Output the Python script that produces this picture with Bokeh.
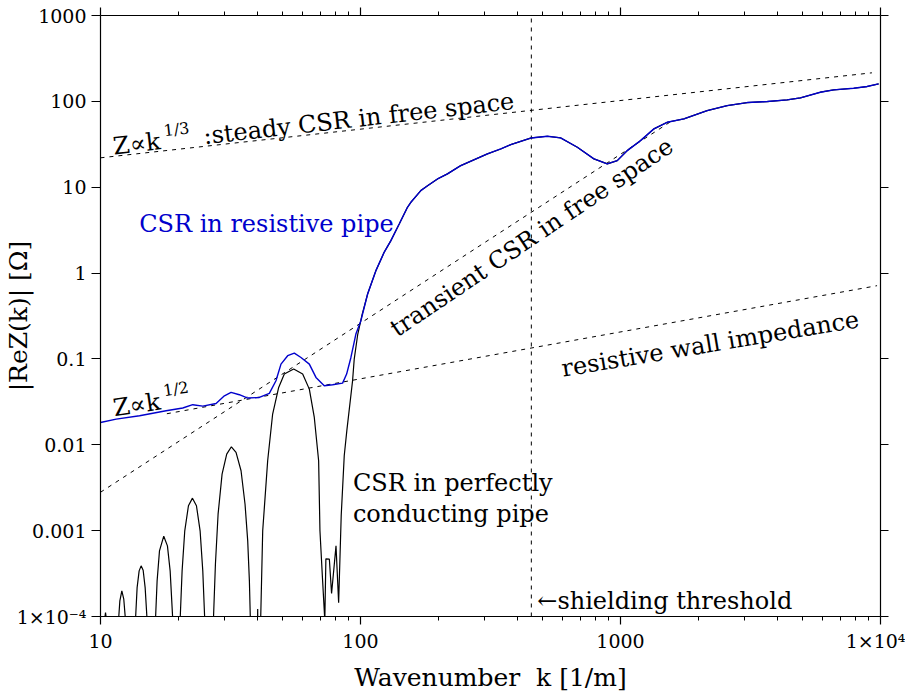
import math
from bokeh.plotting import figure
from bokeh.models import LogAxis, FixedTicker, CustomJSTickFormatter, Label
from bokeh.embed import file_html
from bokeh.resources import INLINE

# ---------------- data ----------------
# CSR in resistive pipe, low-k part (k [1/m], |ReZ| [Ohm])
k_res_low = [10.0, 11.49, 14.13, 17.88, 20.72, 22.64, 24.74, 27.83, 29.96, 31.78,
             34.20, 36.83, 40.83, 44.6, 47.3, 49.45, 52.47, 55.65, 59.03, 63.56,
             67.41, 72.55, 78.12, 85.33, 88.44, 91.86, 96.0, 100.35]
z_res_low = [0.0182, 0.0199, 0.0218, 0.0249, 0.0268, 0.0293, 0.0282, 0.0303, 0.0372, 0.0407,
             0.0383, 0.0350, 0.0356, 0.0397, 0.0557, 0.0871, 0.109, 0.117, 0.104, 0.0871,
             0.0609, 0.0487, 0.0500, 0.0523, 0.0666, 0.104, 0.195, 0.279]

# CSR in perfectly conducting pipe, low-k part (9e-5 = below the axis floor)
k_pec_low = [10.36, 10.455, 10.55,
             11.73, 11.87, 12.08, 12.29, 12.48,
             13.63, 13.83, 14.08, 14.33, 14.59, 14.85, 15.11,
             16.27, 16.51, 16.86, 17.51, 18.09, 18.53, 18.97,
             20.24, 20.60, 21.09, 21.79, 22.58, 23.39, 24.16, 24.74, 25.18,
             27.18, 27.67, 28.33, 29.35, 30.58, 31.87, 33.21, 34.72, 35.97, 36.83, 37.38, 37.71,
             40.20, 40.23, 40.26,
             41.3, 42.06, 43.95, 45.93, 48.45, 50.93, 55.34, 59.92, 63.56, 66.42, 69.02, 69.83,
             71.5, 72.9,
             73.6, 75.9, 77.4, 80.5, 82.4, 84.3, 86.6, 88.6, 93.22, 94.6, 97.5, 101.5]
z_pec_low = [9e-5, 1.11e-4, 9e-5,
             9e-5, 1.52e-4, 1.99e-4, 1.59e-4, 9e-5,
             9e-5, 2.17e-4, 3.40e-4, 3.89e-4, 3.46e-4, 2.17e-4, 9e-5,
             9e-5, 2.60e-4, 5.81e-4, 8.62e-4, 6.65e-4, 3.40e-4, 9e-5,
             9e-5, 3.40e-4, 9.95e-4, 1.95e-3, 2.39e-3, 1.95e-3, 9.95e-4, 3.40e-4, 9e-5,
             9e-5, 4.07e-4, 1.555e-3, 4.55e-3, 7.79e-3, 9.48e-3, 8.14e-3, 4.98e-3, 2.03e-3, 7.60e-4, 2.60e-4, 9e-5,
             9e-5, 1.22e-4, 9e-5,
             9e-5, 9.95e-4, 6.51e-3, 0.0228, 0.0466, 0.0666, 0.0762, 0.0666, 0.0445, 0.0208, 6.51e-3, 9.95e-4,
             2.60e-4, 9e-5,
             4.70e-4, 4.65e-4, 1.85e-4, 6.65e-4, 1.45e-4, 1.5e-3, 7.5e-3, 0.0146, 0.0557, 0.0996, 0.19, 0.33]

# high-k part shared by both curves
k_common = [106.5, 114.6, 123.3, 130.9, 140.9, 151.6, 156.2, 170.6, 181.1, 197.7,
            216.0, 243.0, 307.7, 346.2, 378.3, 454.1, 523.2, 588.8, 682.3, 790.7,
            889.5, 971.8, 1062, 1194, 1344, 1512, 1753, 2154, 2572, 3069,
            3663, 4373, 4920, 5870, 6607, 7884, 8872, 9836]
z_common = [0.570, 1.067, 1.745, 2.39, 3.73, 5.84, 6.67, 9.13, 10.4, 12.48,
            14.3, 17.85, 24.42, 27.9, 31.37, 37.5, 39.2, 37.5, 29.2, 21.35,
            18.67, 20.4, 26.7, 34.9, 47.8, 57.1, 62.5, 78.1, 89.3, 96.8,
            99.5, 104.0, 109.7, 127.8, 136.0, 142.2, 148.8, 159.8]

# asymptotic reference lines (end points)
k_steady, z_steady = [10, 9270], [22.0, 215.0]          # Z ~ k^(1/3)
k_transient, z_transient = [10, 1600], [0.0028, 61.0]   # transient CSR
k_wall, z_wall = [18, 9700], [0.0230, 0.713]            # resistive wall ~ k^(1/2)
k_shield = 454.0                                        # shielding threshold
z_span = [1e-4, 1000]

x_ticks = [10, 100, 1000, 10000]
x_tick_labels = ["10", "100", "1000", "1×10⁴"]
y_ticks = [1e-4, 1e-3, 1e-2, 0.1, 1, 10, 100, 1000]
y_tick_labels = ["1×10⁻⁴", "0.001", "0.01", "0.1", "1", "10", "100", "1000"]

# ---------------- figure ----------------
FONT = "DejaVu Serif"
BLUE = "#0000CC"

p = figure(width=905, height=695, x_axis_type="log", y_axis_type="log",
           x_range=(10, 1e4), y_range=(1e-4, 1000),
           output_backend="svg", toolbar_location=None,
           min_border_left=99, min_border_right=25, min_border_top=15, min_border_bottom=79)
p.outline_line_color = None
p.xgrid.visible = False
p.ygrid.visible = False
p.background_fill_color = "white"
p.border_fill_color = "white"

x_minor = [m * 10 ** e for e in (1, 2, 3) for m in range(2, 10)]

def map_fmt(vals, labs):
    return CustomJSTickFormatter(args=dict(vals=vals, labs=labs), code="""
        let best = 0, bd = Infinity;
        for (let i = 0; i < vals.length; i++) {
            const d = Math.abs(Math.log10(tick) - Math.log10(vals[i]));
            if (d < bd) { bd = d; best = i; }
        }
        return labs[best];
    """)

blank = CustomJSTickFormatter(code="return '';")

def style_axis(ax, major_out, minor_out):
    ax.axis_line_color = "black"
    ax.axis_line_width = 1.2
    ax.major_tick_line_color = "black"
    ax.major_tick_line_width = 1.2
    ax.minor_tick_line_color = "black"
    ax.minor_tick_line_width = 1.0
    ax.major_tick_in = 0
    ax.major_tick_out = major_out
    ax.minor_tick_in = 0
    ax.minor_tick_out = minor_out
    ax.major_label_text_font = FONT
    ax.major_label_text_font_size = "19px"
    ax.major_label_text_color = "black"

xb = p.xaxis[0]
xb.ticker = FixedTicker(ticks=x_ticks, minor_ticks=x_minor)
xb.formatter = map_fmt(x_ticks, x_tick_labels)
style_axis(xb, 8, 4)
xb.major_label_standoff = 5
xb.axis_label = "Wavenumber\u00a0\u00a0k [1/m]"
xb.axis_label_text_font = FONT
xb.axis_label_text_font_size = "25px"
xb.axis_label_text_font_style = "normal"
xb.axis_label_text_color = "black"
xb.axis_label_standoff = 8

yl = p.yaxis[0]
yl.ticker = FixedTicker(ticks=y_ticks, minor_ticks=[])
yl.formatter = map_fmt(y_ticks, y_tick_labels)
style_axis(yl, 9, 0)
yl.major_label_standoff = 5
yl.axis_label = "|ReZ(k)| [Ω]"
yl.axis_label_text_font = FONT
yl.axis_label_text_font_size = "25px"
yl.axis_label_text_font_style = "normal"
yl.axis_label_text_color = "black"
yl.axis_label_standoff = -19

xt = LogAxis(ticker=FixedTicker(ticks=x_ticks, minor_ticks=x_minor), formatter=blank)
style_axis(xt, 8, 4)
xt.major_label_standoff = 0
p.add_layout(xt, "above")

yr = LogAxis(ticker=FixedTicker(ticks=y_ticks, minor_ticks=[]), formatter=blank)
style_axis(yr, 8, 0)
yr.major_label_standoff = 0
p.add_layout(yr, "right")

# ---------------- lines ----------------
DASH = "4 5"
p.line(k_steady, z_steady, line_color="black", line_width=1, line_dash=DASH)
p.line(k_transient, z_transient, line_color="black", line_width=1, line_dash=DASH)
p.line(k_wall, z_wall, line_color="black", line_width=1, line_dash=DASH)
p.line([k_shield, k_shield], z_span, line_color="black", line_width=1, line_dash=DASH)

p.line(k_pec_low + k_common, z_pec_low + z_common, line_color="black", line_width=1.2)
p.line(k_res_low + k_common, z_res_low + z_common, line_color=BLUE, line_width=1.4)

# ---------------- annotations ----------------
def rot(dx, dy, ang):
    a = math.radians(ang)
    return dx * math.cos(a) - dy * math.sin(a), dx * math.sin(a) + dy * math.cos(a)

def lab(x, y, text, ang=0.0, dx=0.0, dy=0.0, size="24px", color="black", align="left"):
    ox, oy = rot(dx, dy, ang)
    p.add_layout(Label(x=x, y=y, x_offset=ox, y_offset=oy, text=text,
                       angle=ang, angle_units="deg",
                       text_font=FONT, text_font_size=size, text_color=color,
                       text_align=align, text_baseline="alphabetic"))

# Z ~ k^(1/3) : steady CSR in free space
a1 = 6.5
lab(11.19, 29.7, "Z∝k", a1)
lab(11.19, 29.7, "1/3", a1, dx=52, dy=10, size="16px")
lab(11.19, 29.7, ":steady CSR in free space", a1, dx=91)

# Z ~ k^(1/2)
a2 = 8.5
lab(11.19, 0.0265, "Z∝k", a2)
lab(11.19, 0.0265, "1/2", a2, dx=52, dy=10, size="16px")

lab(14.08, 3.77, "CSR in resistive pipe", color=BLUE)
lab(133.2, 0.212, "transient CSR in free space", 34.0)
lab(593.9, 0.0765, "resistive wall impedance", 9.5)
lab(93.5, 3.61e-3, "CSR in perfectly")
lab(93.5, 1.55e-3, "conducting pipe")
lab(478.6, 1.52e-4, "←shielding threshold")

open("out.html", "w").write(file_html(p, INLINE))
